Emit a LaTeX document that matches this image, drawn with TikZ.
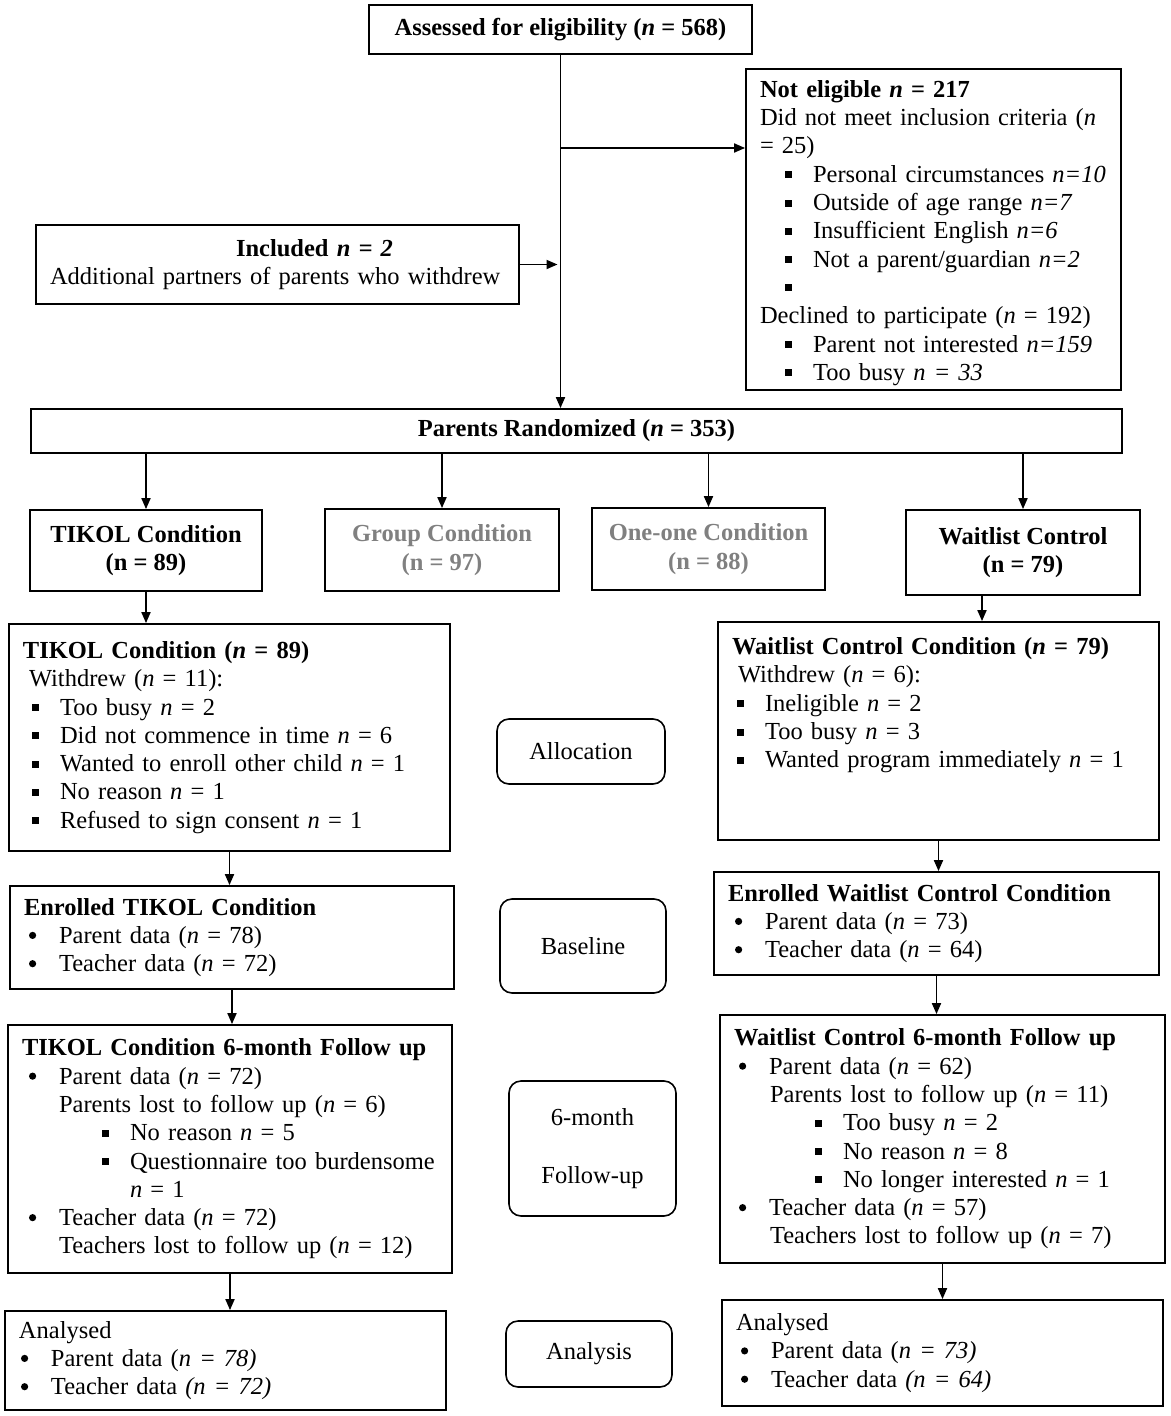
\documentclass[tikz,border=0pt]{standalone}
\usepackage{fontspec}
\setmainfont{Liberation Serif}
\usetikzlibrary{arrows.meta}

\newcommand\sqb[1][6pt]{\hspace*{#1}\makebox[28pt][l]{\rule[4pt]{7pt}{7pt}}}
\newcommand\dotb[1][6pt]{\hspace*{#1}\makebox[30pt][l]{\tikz[baseline=-8pt]\fill (0,0) circle (3.6pt);}}
\newcommand\nn{\textit{n}}

\begin{document}
\begin{tikzpicture}[x=1pt, y=-1pt,
  every node/.style={font=\fontsize{24.5}{28.3}\selectfont},
  box/.style={draw, line width=1.8pt, inner xsep=14pt, inner ysep=4pt, align=left},
  cbox/.style={box, align=center},
  stage/.style={draw, line width=1.6pt, rounded corners=12pt, align=center},
  arrow/.style={line width=1.8pt, -{Triangle[length=11pt, width=9pt]}},
  faded/.style={text=black!50}]

  \useasboundingbox (0,0) rectangle (1170,1416);

  % enrolment
  \node[cbox, minimum width=383, minimum height=49] (assess) at (560.5,29.5)
    {\textbf{Assessed for eligibility (\nn{} = 568)}};
  \node[box, text width=347, minimum height=321] (notelig) at (933.5,229.5)
    {\rule{0pt}{24pt}\textbf{Not eligible \nn{} = 217}\\
     Did not meet inclusion criteria (\nn\\
     = 25)\\
     \sqb[25pt]Personal circumstances \textit{n=10}\\
     \sqb[25pt]Outside of age range \textit{n=7}\\
     \sqb[25pt]Insufficient English \textit{n=6}\\
     \sqb[25pt]Not a parent/guardian \textit{n=2}\\
     \sqb[25pt]\\
     Declined to participate (\nn{} = 192)\\
     \sqb[25pt]Parent not interested \textit{n=159}\\
     \sqb[25pt]Too busy \textit{n = 33}};
  \node[box, text width=455, minimum height=79] (included) at (277.5,264.5)
    {\hspace*{186pt}\textbf{Included \textit{n = 2}}\\
     Additional partners of parents who withdrew};
  \node[cbox, minimum width=1091, minimum height=44] (rand) at (576.5,431)
    {\textbf{Parents Randomized (\nn{} = 353)}};

  % arms
  \node[cbox, minimum width=232, minimum height=81] (tikol) at (146,550.5)
    {\textbf{TIKOL Condition}\\\textbf{(n = 89)}};
  \node[cbox, faded, minimum width=234, minimum height=82] (group) at (442,550)
    {\textbf{Group Condition}\\\textbf{(n = 97)}};
  \node[cbox, faded, minimum width=233, minimum height=82] (oneone) at (708.5,549)
    {\textbf{One-one Condition}\\\textbf{(n = 88)}};
  \node[cbox, minimum width=234, minimum height=85] (wait) at (1023,552.5)
    {\textbf{Waitlist Control}\\\textbf{(n = 79)}};

  % allocation
  \node[box, text width=413, minimum height=227] (tikolW) at (229.5,737.5)
    {\textbf{TIKOL Condition (\nn{} = 89)}\\
     \hspace*{6pt}Withdrew (\nn{} = 11):\\
     \sqb[9pt]Too busy \nn{} = 2\\
     \sqb[9pt]Did not commence in time \nn{} = 6\\
     \sqb[9pt]Wanted to enroll other child \nn{} = 1\\
     \sqb[9pt]No reason \nn{} = 1\\
     \sqb[9pt]Refused to sign consent \nn{} = 1};
  \node[box, text width=413, minimum height=218] (waitW) at (938.5,731)
    {\textbf{Waitlist Control Condition (\nn{} = 79)}\\
     \hspace*{6pt}Withdrew (\nn{} = 6):\\
     \sqb[5pt]Ineligible \nn{} = 2\\
     \sqb[5pt]Too busy \nn{} = 3\\
     \sqb[5pt]Wanted program immediately \nn{} = 1\\
     \mbox{}\\
     \mbox{}};
  \node[stage, minimum width=168, minimum height=65] (alloc) at (581,751.5) {Allocation};

  % baseline
  \node[box, text width=416, minimum height=103] (enrT) at (232,937.5)
    {\textbf{Enrolled TIKOL Condition}\\
     \dotb[5pt]Parent data (\nn{} = 78)\\
     \dotb[5pt]Teacher data (\nn{} = 72)};
  \node[box, text width=417, minimum height=103] (enrW) at (936.5,923.5)
    {\textbf{Enrolled Waitlist Control Condition}\\
     \dotb[7pt]Parent data (\nn{} = 73)\\
     \dotb[7pt]Teacher data (\nn{} = 64)};
  \node[stage, minimum width=166, minimum height=94] (base) at (583,946) {Baseline};

  % follow-up
  \node[box, text width=416, minimum height=248] (fuT) at (230,1149)
    {\textbf{TIKOL Condition 6-month Follow up}\\
     \dotb[7pt]Parent data (\nn{} = 72)\\
     \hspace*{37pt}Parents lost to follow up (\nn{} = 6)\\
     \sqb[80pt]No reason \nn{} = 5\\
     \sqb[80pt]Questionnaire too burdensome\\
     \hspace*{108pt}\nn{} = 1\\
     \dotb[7pt]Teacher data (\nn{} = 72)\\
     \hspace*{37pt}Teachers lost to follow up (\nn{} = 12)};
  \node[box, text width=417, minimum height=248] (fuW) at (942.5,1139)
    {\textbf{Waitlist Control 6-month Follow up}\\
     \dotb[5pt]Parent data (\nn{} = 62)\\
     \hspace*{36pt}Parents lost to follow up (\nn{} = 11)\\
     \sqb[81pt]Too busy \nn{} = 2\\
     \sqb[81pt]No reason \nn{} = 8\\
     \sqb[81pt]No longer interested \nn{} = 1\\
     \dotb[5pt]Teacher data (\nn{} = 57)\\
     \hspace*{36pt}Teachers lost to follow up (\nn{} = 7)};
  \node[stage, minimum width=167, minimum height=135] (fu6) at (592.5,1148.5)
    {6-month\\[30pt]Follow-up};

  % analysis
  \node[box, text width=413, minimum height=99] (anT) at (225.5,1360.5)
    {Analysed\\
     \dotb[2pt]Parent data (\textit{n = 78)}\\
     \dotb[2pt]Teacher data \textit{(n = 72)}};
  \node[box, text width=413, minimum height=106] (anW) at (942.5,1353)
    {Analysed\\
     \dotb[5pt]Parent data (\textit{n = 73)}\\
     \dotb[5pt]Teacher data \textit{(n = 64)}};
  \node[stage, minimum width=166, minimum height=66] (anal) at (589,1354) {Analysis};

  % connectors
  \coordinate (split) at (560.5,148);
  \coordinate (wdrop) at ([xshift=-41pt]wait.south);
  \draw[arrow] (assess.south) -- (assess.south |- rand.north);
  \draw[arrow] (split) -- (split -| notelig.west);
  \draw[arrow, shorten >=3pt] (included.east) -- (included.east -| assess.south);
  \foreach \arm in {tikol,group,oneone,wait}
    \draw[arrow] (rand.south -| \arm.north) -- (\arm.north);
  \draw[arrow] (tikol.south) -- (tikol.south |- tikolW.north);
  \draw[arrow] (wdrop) -- (wdrop |- waitW.north);
  \draw[arrow] (tikolW.south) -- (tikolW.south |- enrT.north);
  \draw[arrow] (waitW.south) -- (waitW.south |- enrW.north);
  \draw[arrow] (enrT.south) -- (enrT.south |- fuT.north);
  \draw[arrow] (enrW.south) -- (enrW.south |- fuW.north);
  \draw[arrow] (fuT.south) -- (fuT.south |- anT.north);
  \draw[arrow] (fuW.south) -- (fuW.south |- anW.north);
\end{tikzpicture}
\end{document}
